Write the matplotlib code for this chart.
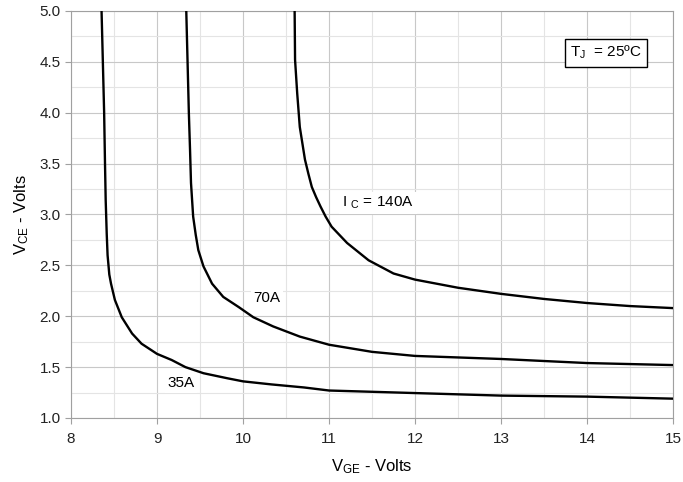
import matplotlib.pyplot as plt
from matplotlib.ticker import MultipleLocator

plt.rcParams['font.family'] = ['Liberation Sans', 'DejaVu Sans']
plt.rcParams['mathtext.fontset'] = 'custom'
plt.rcParams['mathtext.rm'] = 'Liberation Sans'
plt.rcParams['mathtext.it'] = 'Liberation Sans'

# curves: gate voltage (V) vs collector-emitter voltage (V)
vge_35 = [8.355, 8.37, 8.385, 8.395, 8.403, 8.415, 8.425, 8.445, 8.465, 8.51, 8.59, 8.71,
          8.82, 9.0, 9.17, 9.33, 9.54, 9.82, 10.0, 10.33, 10.71, 11.0, 12.0, 13.0, 14.0, 15.0]
vce_35 = [5.0, 4.5, 4.0, 3.5, 3.14, 2.81, 2.6, 2.41, 2.32, 2.16, 1.99, 1.83,
          1.73, 1.63, 1.57, 1.50, 1.44, 1.39, 1.36, 1.33, 1.30, 1.27, 1.245, 1.22, 1.21, 1.19]

vge_70 = [9.34, 9.355, 9.37, 9.384, 9.395, 9.42, 9.45, 9.48, 9.54, 9.64, 9.77, 9.95,
          10.12, 10.35, 10.66, 11.0, 11.5, 12.0, 13.0, 14.0, 15.0]
vce_70 = [5.0, 4.5, 4.0, 3.63, 3.31, 2.98, 2.80, 2.65, 2.49, 2.32, 2.19, 2.09,
          1.99, 1.90, 1.80, 1.72, 1.65, 1.61, 1.58, 1.54, 1.52]

vge_140 = [10.60, 10.605, 10.63, 10.66, 10.72, 10.76, 10.80, 10.85, 10.90, 10.96, 11.03,
           11.21, 11.46, 11.75, 12.0, 12.5, 13.0, 13.5, 14.0, 14.5, 15.0]
vce_140 = [5.0, 4.52, 4.19, 3.86, 3.54, 3.40, 3.27, 3.17, 3.08, 2.98, 2.88,
           2.72, 2.55, 2.42, 2.36, 2.28, 2.22, 2.17, 2.13, 2.10, 2.08]

curve_labels = ['35A', '70A', 'I $_{\\rm C}$ = 140A']
label_pos = [(9.28, 1.34), (10.28, 2.18), (11.57, 3.11)]

fig = plt.figure(figsize=(6.83, 4.82), dpi=100)
ax = fig.add_axes([0.104, 0.1328, 0.8814, 0.8444])

for x, y in [(vge_35, vce_35), (vge_70, vce_70), (vge_140, vce_140)]:
    ax.plot(x, y, color='black', lw=1.7, zorder=3, solid_joinstyle='round')

for txt, (x, y) in zip(curve_labels, label_pos):
    ax.text(x, y, txt, fontsize=11, ha='center', va='center', zorder=4,
            bbox=dict(facecolor='white', edgecolor='none', pad=2))

ax.text(14.22, 4.59, 'T$_{\\rm J}$  = 25ºC', fontsize=11, ha='center', va='center', zorder=4,
        bbox=dict(facecolor='white', edgecolor='black', lw=1.0, pad=4))

ax.set_xlim(8, 15)
ax.set_ylim(1.0, 5.0)
ax.xaxis.set_major_locator(MultipleLocator(1))
ax.xaxis.set_minor_locator(MultipleLocator(0.5))
ax.yaxis.set_major_locator(MultipleLocator(0.5))
ax.yaxis.set_minor_locator(MultipleLocator(0.25))
ax.yaxis.set_major_formatter(plt.FormatStrFormatter('%.1f'))
ax.grid(which='major', color='#c8c8c8', lw=0.8)
ax.grid(which='minor', color='#e4e4e4', lw=0.8)
ax.set_axisbelow(True)
for s in ax.spines.values():
    s.set_color('#a0a0a0')
ax.tick_params(which='major', length=4, color='#a0a0a0', labelsize=11, colors='#222222')
ax.tick_params(which='minor', length=0)
ax.tick_params(axis='x', pad=6)

ax.set_xlabel('V$_{\\rm GE}$ - Volts', fontsize=12, labelpad=8)
ax.set_ylabel('V$_{\\rm CE}$ - Volts', fontsize=12, labelpad=6)

fig.savefig('out.png', dpi=100)
